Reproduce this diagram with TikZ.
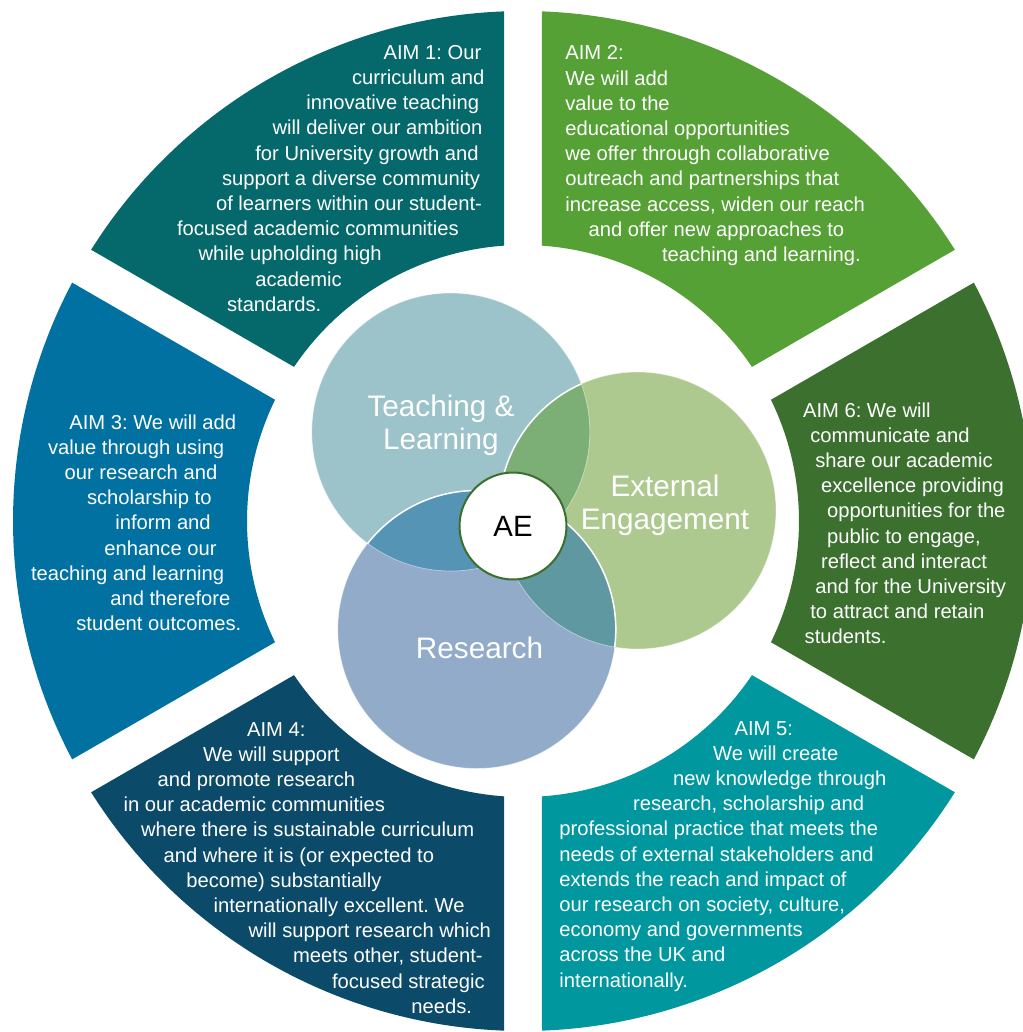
\documentclass[tikz,border=0pt]{standalone}
\usepackage{fontspec}
\setmainfont{Liberation Sans}
\frenchspacing

% ring segment colours
\definecolor{aimone}{RGB}{5,104,107}
\definecolor{aimtwo}{RGB}{85,161,53}
\definecolor{aimthree}{RGB}{0,113,161}
\definecolor{aimfour}{RGB}{12,74,106}
\definecolor{aimfive}{RGB}{0,151,158}
\definecolor{aimsix}{RGB}{59,112,47}
% hub colours
\definecolor{hubtl}{RGB}{156,195,201}
\definecolor{hubee}{RGB}{174,201,143}
\definecolor{hubrs}{RGB}{145,171,201}
\definecolor{mixtlee}{RGB}{124,175,118}
\definecolor{mixtlrs}{RGB}{85,148,181}
\definecolor{mixeers}{RGB}{95,152,160}
\definecolor{aegreen}{RGB}{59,112,47}

% annular segment between two boundary angles, with a parallel gap
\newcommand\ringsector[3]{%
  \fill[#1] ([shift={(#2+\dout:\Rout)}]C)
    arc[start angle=#2+\dout, end angle=#3-\dout, radius=\Rout]
    -- ([shift={(#3-\din:\Rin)}]C)
    arc[start angle=#3-\din, end angle=#2+\din, radius=\Rin] -- cycle;}

% one text line per entry: left x / text, baselines 25.2 apart
\newcommand\aimlines[3]{%
  \foreach \lx/\lt [count=\li, evaluate=\li as \ly using #2+25.2*(\li-1)] in {#3}
    \node[aimline] (#1-\li) at (\lx,\ly) {\lt};}

\begin{document}
\begin{tikzpicture}[x=0.02cm, y=-0.02cm,
  aimline/.style={anchor=base west, inner sep=0pt, text=white,
    font=\fontsize{11.49}{14.34}\selectfont},
  hublabel/.style={anchor=base, inner sep=0pt, text=white,
    font=\fontsize{16.9}{18.8}\selectfont},
  aenode/.style={circle, draw=aegreen, line width=1.15pt, fill=white,
    minimum size=2.14cm, inner sep=0pt, text=black,
    font=\fontsize{16.7}{18}\selectfont},
  faintrim/.style={draw=white, draw opacity=0.45, line width=0.45pt},
  solidrim/.style={draw=white, line width=0.85pt}]

\useasboundingbox (0,0) rectangle (1023,1032);
\clip (0,0) rectangle (1023,1032);
\fill[white] (0,0) rectangle (1023,1032);

\coordinate (C) at (523,521);
\def\Rout{510}\def\Rin{276}\def\dout{2.135}\def\din{3.947}

% outer ring
\ringsector{aimone}{210}{270}
\ringsector{aimtwo}{270}{330}
\ringsector{aimsix}{-30}{30}
\ringsector{aimfive}{30}{90}
\ringsector{aimfour}{90}{150}
\ringsector{aimthree}{150}{210}

% hub circles
\coordinate (TL) at (450.8,432);
\coordinate (EE) at (637.5,510.5);
\coordinate (RS) at (476.8,629.5);
\fill[hubtl] (TL) circle[radius=139];
\fill[hubee] (EE) circle[radius=138.5];
\fill[hubrs] (RS) circle[radius=139];

% overlaps
\begin{scope}
  \clip (TL) circle[radius=139];
  \fill[mixtlee] (EE) circle[radius=138.5];
  \fill[mixtlrs] (RS) circle[radius=139];
\end{scope}
\begin{scope}
  \clip (EE) circle[radius=138.5];
  \fill[mixeers] (RS) circle[radius=139];
\end{scope}
\begin{scope}
  \clip (TL) circle[radius=139];
  \clip (EE) circle[radius=138.5];
  \fill[mixeers] (RS) circle[radius=139];
\end{scope}

% rims
\path[faintrim] (TL) circle[radius=139];
\path[faintrim] (EE) circle[radius=138.5];
\path[faintrim] (RS) circle[radius=139];
\begin{scope}
  \clip (TL) circle[radius=139];
  \path[solidrim] (EE) circle[radius=138.5];
  \path[solidrim] (RS) circle[radius=139];
\end{scope}
\begin{scope}
  \clip (EE) circle[radius=138.5];
  \path[solidrim] (RS) circle[radius=139];
\end{scope}

% hub labels
\node[hublabel] (tllabel) at (441,416.7)
  {\begin{tabular}[t]{@{}c@{}}Teaching \&\\Learning\end{tabular}};
\node[hublabel] (eelabel) at (665,496.7)
  {\begin{tabular}[t]{@{}c@{}}External\\Engagement\end{tabular}};
\node[hublabel] (rslabel) at (479.5,658.3) {Research};
\node[aenode] (ae) at (513,526) {AE};

% aims
\aimlines{aimA}{59.3}{383.3/{AIM 1: Our}, 351.7/{curriculum and},
  306/{innovative teaching}, 272.3/{will deliver our ambition},
  255/{for University growth and}, 221.7/{support a diverse community},
  215.7/{of learners within our student-}, 176.7/{focused academic communities},
  198.3/{while upholding high}, 255/{academic}, 226.7/{standards.}}
\aimlines{aimB}{59.8}{565/{AIM 2:}, 565/{We will add}, 565/{value to the},
  565/{educational opportunities}, 565/{we offer through collaborative},
  565/{outreach and partnerships that}, 565/{increase access, widen our reach},
  588.3/{and offer new approaches to}, 661.7/{teaching and learning.}}
\aimlines{aimC}{429}{69/{AIM 3: We will add}, 47.7/{value through using},
  64.3/{our research and}, 86.7/{scholarship to}, 115/{inform and},
  104/{enhance our}, 30.7/{teaching and learning}, 110/{and therefore},
  76/{student outcomes.}}
\aimlines{aimD}{736}{246.7/{AIM 4:}, 202.7/{We will support},
  157.3/{and promote research}, 123.3/{in our academic communities},
  140.7/{where there is sustainable curriculum},
  163.3/{and where it is (or expected to}, 186/{become) substantially},
  213.3/{internationally excellent. We}, 248.3/{will support research which},
  292.7/{meets other, student-}, 331.7/{focused strategic}, 411/{needs.}}
\aimlines{aimE}{735}{734.3/{AIM 5:}, 712.7/{We will create},
  672.7/{new knowledge through}, 632.7/{research, scholarship and},
  559/{professional practice that meets the},
  559/{needs of external stakeholders and},
  559/{extends the reach and impact of},
  559/{our research on society, culture,},
  559/{economy and governments}, 559/{across the UK and},
  559/{internationally.}}
\aimlines{aimF}{417}{802.7/{AIM 6: We will}, 810/{communicate and},
  815/{share our academic}, 820.7/{excellence providing},
  826.7/{opportunities for the}, 826.7/{public to engage,},
  820.7/{reflect and interact}, 815/{and for the University},
  810/{to attract and retain}, 804.3/{students.}}
\end{tikzpicture}
\end{document}
